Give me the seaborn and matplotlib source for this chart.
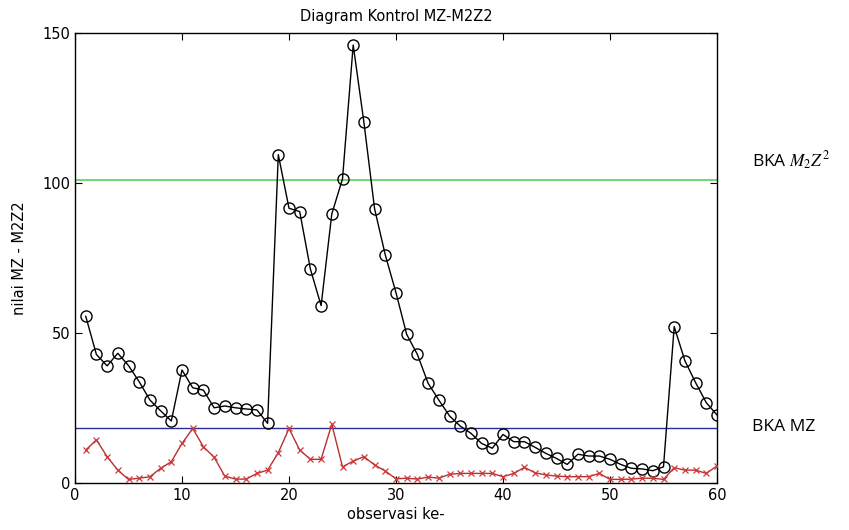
import numpy as np
import pandas as pd
import matplotlib
matplotlib.use("Agg")
import matplotlib.pyplot as plt
import seaborn as sns

# ---- data ----
obs = list(range(1, 61))
m2z2 = [55.6, 42.8, 39.0, 43.2, 39.1, 33.7, 27.6, 24.0, 20.6, 37.6,
        31.7, 30.9, 25.0, 25.6, 25.0, 24.6, 24.3, 19.8, 109.5, 91.6,
        90.5, 71.3, 59.1, 89.7, 101.4, 146.1, 120.3, 91.4, 76.0, 63.4,
        49.5, 42.8, 33.2, 27.6, 22.3, 18.9, 16.5, 13.1, 11.5, 16.1,
        13.7, 13.7, 11.8, 9.8, 8.1, 6.1, 9.5, 8.9, 8.9, 7.8,
        6.1, 4.8, 4.6, 4.0, 5.3, 52.1, 40.7, 33.4, 26.7, 22.6]
mz = [10.9, 14.3, 8.7, 4.2, 1.1, 1.5, 2.0, 4.8, 7.0, 13.1,
      18.1, 12.0, 8.5, 2.2, 1.2, 1.2, 3.1, 4.2, 10.0, 18.1,
      10.9, 7.8, 7.8, 19.5, 5.3, 7.2, 8.7, 5.9, 3.9, 1.3,
      1.5, 1.2, 1.9, 1.5, 2.8, 3.1, 3.1, 3.1, 3.1, 2.0,
      3.1, 5.1, 3.3, 2.6, 2.2, 2.0, 2.0, 2.0, 3.1, 1.1,
      1.1, 1.2, 1.5, 1.5, 1.1, 5.0, 4.2, 4.2, 3.1, 5.6]
bka_m2z2 = 101.0
bka_mz = 18.4
x_ticks = [0, 10, 20, 30, 40, 50, 60]
y_ticks = [0, 50, 100, 150]

title = "Diagram Kontrol MZ-M2Z2"
xlabel = "observasi ke-"
ylabel = "nilai MZ - M2Z2"

sns.set_style("ticks")
plt.rcParams["font.family"] = ["DejaVu Sans"]
plt.rcParams["mathtext.fontset"] = "stix"
plt.rcParams["text.color"] = "black"
plt.rcParams["axes.labelcolor"] = "black"

fig = plt.figure(figsize=(8.49, 5.30), dpi=100)
ax = fig.add_axes([75 / 849, 1 - 482.7 / 530, (717 - 75) / 849, (482.7 - 33.3) / 530])

df = pd.DataFrame({"obs": obs, "m2z2": m2z2, "mz": mz})

ax.axhline(bka_m2z2, color="#4ccc4c", lw=1.1, zorder=1)
ax.axhline(bka_mz, color="#2b2b9a", lw=1.0, zorder=1)

sns.lineplot(data=df, x="obs", y="m2z2", ax=ax, color="black", lw=1.0,
             marker="o", markersize=8, markerfacecolor="none",
             markeredgecolor="black", markeredgewidth=1.0, zorder=3)
sns.lineplot(data=df, x="obs", y="mz", ax=ax, color="#b83030", lw=1.0,
             marker="x", markersize=4.5, markeredgecolor="#d03a3a",
             markeredgewidth=0.9, zorder=3)

ax.set_xlim(0, 60)
ax.set_ylim(0, 150)
ax.set_xticks(x_ticks)
ax.set_yticks(y_ticks)
ax.tick_params(direction="in", top=True, right=True, length=5, width=0.8,
               labelsize=10.5, colors="black")
for s in ax.spines.values():
    s.set_visible(True)
    s.set_linewidth(1.0)
    s.set_color("black")

ax.set_title(title, fontsize=10.5, pad=9, color="black")
ax.set_xlabel(xlabel, fontsize=10.5, labelpad=3)
ax.set_ylabel(ylabel, fontsize=10.5, labelpad=11)

fig.text(752 / 849, 1 - 161 / 530, r"BKA $M_2Z^2$", fontsize=12.5, color="black",
         family=["Open Sans", "DejaVu Sans"], va="center", ha="left")
fig.text(752 / 849, 1 - 427 / 530, "BKA MZ", fontsize=12.5, color="black",
         family=["Open Sans", "DejaVu Sans"], va="center", ha="left")

fig.savefig("out.png", dpi=100, facecolor="white")
